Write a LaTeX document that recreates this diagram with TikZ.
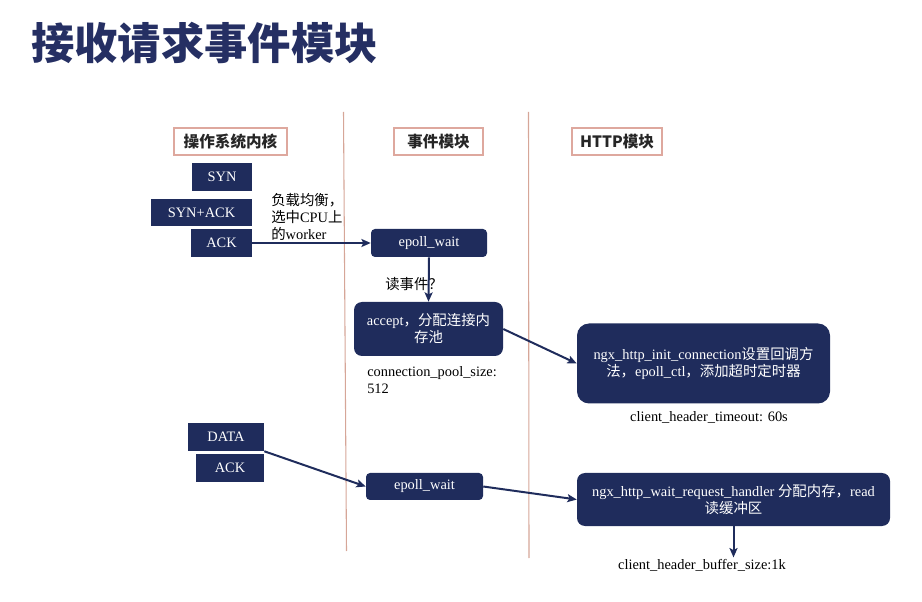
\documentclass[tikz,border=0pt]{standalone}
\usepackage{fontspec}
\setmainfont{Liberation Serif}
\newfontfamily\cjk{Noto Sans CJK SC}
\usetikzlibrary{arrows.meta}
\definecolor{navy}{RGB}{31,44,92}
\definecolor{titlec}{RGB}{37,47,99}
\definecolor{hdr}{RGB}{222,168,158}
\definecolor{vln}{RGB}{214,166,152}
\newcommand\zh[1]{{\cjk #1}}
\newcommand\fsz{\fontsize{10.8}{12.75}\selectfont}
\begin{document}
\begin{tikzpicture}[x=0.75pt,y=-0.75pt,
  sqbox/.style={fill=navy, draw=none, text=white, inner sep=0pt, font=\fsz, align=center},
  rbox/.style={sqbox, rounded corners=#1},
  rbox/.default=3pt,
  hdrbox/.style={draw=hdr, line width=1.1pt, fill=white, inner sep=0pt, font=\cjk\bfseries\fontsize{11.7}{13}\selectfont, text=black!85},
  lbl/.style={inner sep=0pt, font=\fsz, text=black},
  conn/.style={draw=navy, line width=1.5pt, -{Stealth[length=7pt,width=6pt,inset=1.5pt]}},
  vline/.style={draw=vln, line width=0.8pt}
]
\useasboundingbox (0,0) rectangle (922,602);
% title
\node[anchor=west, inner sep=0pt, text=titlec, font=\cjk\bfseries\fontsize{32.5}{36}\selectfont] (title) at (31,43) {接收请求事件模块};
% column separators
\draw[vline] (343.5,112) -- (346.5,551);
\draw[vline] (528.5,112) -- (529,558);
% headers
\node[hdrbox, minimum width=84.75pt, minimum height=20.25pt] (h1) at (230.5,141.5) {操作系统内核};
\node[hdrbox, minimum width=66.75pt, minimum height=20.25pt] (h2) at (438.5,141.5) {事件模块};
\node[hdrbox, minimum width=67.5pt, minimum height=20.25pt] (h3) at (617,141.5) {HTTP模块};
% kernel packets
\node[sqbox, minimum width=45pt, minimum height=21pt] (syn) at (222,177) {SYN};
\node[sqbox, minimum width=75.75pt, minimum height=20.25pt] (synack) at (201.5,212.5) {SYN+ACK};
\node[sqbox, minimum width=45.75pt, minimum height=21pt] (ack1) at (221.5,243) {ACK};
\node[sqbox, minimum width=57pt, minimum height=21pt] (data) at (226,437) {DATA};
\node[sqbox, minimum width=51pt, minimum height=21pt] (ack2) at (230,468) {ACK};
% event module
\node[rbox=3pt, minimum width=87pt, minimum height=21pt] (ep1) at (429,243) {epoll\_wait};
\node[rbox=6pt, minimum width=111.75pt, minimum height=40.5pt] (acc) at (428.5,329) {accept\zh{，分配连接内}\\\zh{存池}};
\node[rbox=3pt, minimum width=87.75pt, minimum height=20.25pt] (ep2) at (424.5,486.5) {epoll\_wait};
% http module
\node[rbox=9pt, minimum width=189.75pt, minimum height=60pt] (init) at (703.5,363.5) {ngx\_http\_init\_connection\zh{设置回调方}\\\zh{法，}epoll\_ctl\zh{，添加超时定时器}};
\node[rbox=6pt, minimum width=234.75pt, minimum height=39.75pt] (wait) at (733.5,499.5) {ngx\_http\_wait\_request\_handler \zh{分配内存，}read\\\zh{读缓冲区}};
% labels
\node[lbl, anchor=west, align=left] (lb) at (271,216.5) {\zh{负载均衡，}\\\zh{选中}CPU\zh{上}\\\zh{的}worker};
\node[lbl, anchor=west] (rd) at (385,284) {\zh{读事件？}};
\node[lbl, anchor=west, align=left] (cps) at (367,380) {connection\_pool\_size:\\512};
\node[lbl] (cht) at (709,417) {client\_header\_timeout: 60s};
\node[lbl] (chb) at (702,565) {client\_header\_buffer\_size:1k};
% connectors
\draw[conn] (ack1.east) -- (ep1.west);
\draw[conn] (ep1.south) -- (acc.north);
\draw[conn] (acc.east) -- (init.west);
\draw[conn] (data.south east) -- (ep2.west);
\draw[conn] (ep2.east) -- (wait.west);
\draw[conn] (wait.south) -- ([yshift=1pt]wait.south |- chb.north);
\end{tikzpicture}
\end{document}
